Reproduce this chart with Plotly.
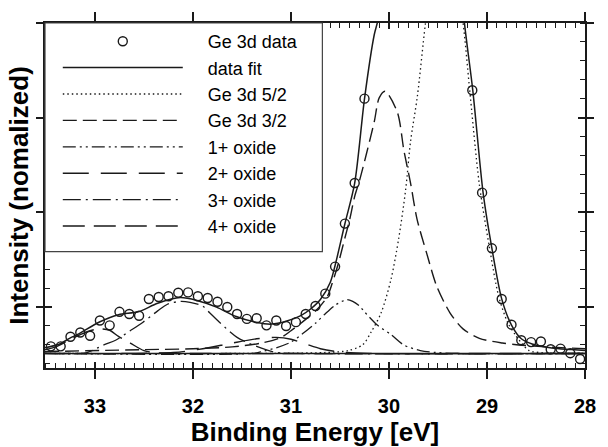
import plotly.graph_objects as go

FONT = "Liberation Sans, Arial, sans-serif"
INK = "#1a1a1a"

# ---------------- data ----------------
data_energy = [33.45, 33.35, 33.25, 33.15, 33.05, 32.95, 32.85, 32.75, 32.65, 32.55,
               32.45, 32.35, 32.25, 32.15, 32.05, 31.95, 31.85, 31.75, 31.65, 31.55,
               31.45, 31.35, 31.25, 31.15, 31.05, 30.95, 30.85, 30.75, 30.65, 30.55,
               30.45, 30.35, 30.25, 30.15, 30.05, 29.95, 29.85, 29.75, 29.65, 29.55,
               29.45, 29.35, 29.25, 29.15, 29.05, 28.95, 28.85, 28.75, 28.65, 28.55,
               28.45, 28.35, 28.25, 28.15, 28.05]
data_intensity = [0.075, 0.075, 0.177, 0.222, 0.187, 0.348, 0.297, 0.440, 0.417, 0.399,
                  0.576, 0.597, 0.604, 0.642, 0.645, 0.604, 0.586, 0.546, 0.491, 0.417,
                  0.365, 0.372, 0.297, 0.348, 0.290, 0.331, 0.417, 0.502, 0.632, 0.918,
                  1.372, 1.801, 2.692, 3.90, 4.30, 4.50, 4.70, 4.90, 5.20, 5.50,
                  5.60, 5.00, 3.80, 2.781, 1.699, 1.111, 0.576, 0.304, 0.140, 0.120,
                  0.126, 0.044, 0.051, 0.003, -0.058]

fit_energy = [33.51, 33.36, 33.26, 33.16, 32.96, 32.76, 32.56, 32.36, 32.13, 31.96,
              31.76, 31.56, 31.36, 31.20, 31.05, 30.90, 30.80, 30.70, 30.60, 30.55,
              30.45, 30.35, 30.25, 30.15, 30.12, 30.05, 29.90, 29.75, 29.60, 29.45,
              29.33, 29.23, 29.145, 29.04, 28.95, 28.85, 28.75, 28.65, 28.54, 28.34,
              28.14, 28.00]
fit_intensity = [0.06, 0.10, 0.16, 0.21, 0.33, 0.41, 0.44, 0.53, 0.59, 0.56,
                 0.49, 0.39, 0.33, 0.31, 0.34, 0.40, 0.47, 0.57, 0.75, 0.93,
                 1.37, 1.80, 2.69, 3.37, 3.49, 3.85, 4.10, 4.40, 4.90, 5.10,
                 4.60, 3.49, 2.78, 1.70, 1.11, 0.577, 0.30, 0.155, 0.10, 0.058,
                 0.041, 0.03]

ge52_energy = [33.51, 31.50, 30.65, 30.42, 30.27, 30.18, 30.08, 29.98, 29.90, 29.83,
               29.78, 29.71, 29.63, 29.55, 29.45, 29.35, 29.245, 29.18, 29.08, 28.98,
               28.88, 28.79, 28.71, 28.64, 28.57, 28.40, 28.00]
ge52_intensity = [0.0, 0.0, 0.01, 0.03, 0.09, 0.23, 0.43, 0.78, 1.22, 1.73,
                  2.24, 2.72, 3.47, 4.10, 4.45, 4.20, 3.50, 2.82, 1.80, 1.15,
                  0.60, 0.33, 0.195, 0.10, 0.03, 0.005, 0.0]

ge32_energy = [33.51, 32.50, 32.00, 31.60, 31.30, 31.10, 31.00, 30.85, 30.72, 30.63,
               30.58, 30.52, 30.45, 30.40, 30.35, 30.30, 30.23, 30.15, 30.10, 30.04,
               29.915, 29.847, 29.78, 29.714, 29.613, 29.513, 29.378, 29.245, 29.078, 28.843,
               28.676, 28.40, 28.00]
ge32_intensity = [0.02, 0.04, 0.05, 0.07, 0.11, 0.17, 0.24, 0.36, 0.48, 0.60,
                  0.74, 0.94, 1.22, 1.42, 1.66, 1.83, 2.11, 2.45, 2.70, 2.77,
                  2.55, 2.14, 1.80, 1.42, 1.05, 0.71, 0.43, 0.26, 0.16, 0.11,
                  0.09, 0.07, 0.05]

ox1_energy = [33.51, 31.40, 31.30, 31.15, 31.00, 30.88, 30.75, 30.65, 30.55, 30.48,
              30.43, 30.37, 30.30, 30.25, 30.12, 29.98, 29.85, 29.68, 29.52, 29.30, 28.00]
ox1_intensity = [0.0, 0.0, 0.02, 0.06, 0.12, 0.21, 0.32, 0.42, 0.51, 0.55,
                 0.57, 0.55, 0.50, 0.44, 0.30, 0.20, 0.09, 0.03, 0.01, 0.0, 0.0]

ox2_energy = [33.51, 32.20, 31.90, 31.60, 31.35, 31.15, 31.00, 30.85, 30.70, 30.50, 30.20, 28.00]
ox2_intensity = [0.0, 0.01, 0.05, 0.11, 0.155, 0.17, 0.15, 0.10, 0.05, 0.015, 0.0, 0.0]

ox3_energy = [33.51, 33.20, 33.08, 32.91, 32.79, 32.64, 32.51, 32.36, 32.26, 32.13,
              32.03, 31.90, 31.83, 31.73, 31.55, 31.35, 31.15, 30.90, 28.00]
ox3_intensity = [0.0, 0.0, 0.01, 0.09, 0.14, 0.24, 0.33, 0.45, 0.52, 0.55,
                 0.54, 0.50, 0.43, 0.33, 0.17, 0.075, 0.01, 0.0, 0.0]

ox4_energy = [33.51, 33.40, 33.30, 33.15, 33.05, 32.95, 32.85, 32.76, 32.64, 32.50, 32.35, 32.00, 28.00]
ox4_intensity = [0.04, 0.07, 0.12, 0.20, 0.24, 0.26, 0.245, 0.18, 0.11, 0.03, 0.005, 0.0, 0.0]

baseline_energy = [33.51, 28.00]
baseline_intensity = [0.0, 0.0]

x_tick_vals = [33, 32, 31, 30, 29, 28]
x_tick_text = ["33", "32", "31", "30", "29", "28"]

# ---------------- figure ----------------
fig = go.Figure()
PAD = "\u00a0" * 4   # gap between legend sample and its label

line_specs = [
    ("data fit", fit_energy, fit_intensity, "solid", 1.5),
    ("Ge 3d 5/2", ge52_energy, ge52_intensity, "1.5px,3px", 1.3),
    ("Ge 3d 3/2", ge32_energy, ge32_intensity, "14px,6px", 1.4),
    ("1+ oxide", ox1_energy, ox1_intensity, "13px,4px,2px,4px,2px,4px", 1.3),
    ("2+ oxide", ox2_energy, ox2_intensity, "26px,12px", 1.4),
    ("3+ oxide", ox3_energy, ox3_intensity, "18px,5px,2px,5px", 1.3),
    ("4+ oxide", ox4_energy, ox4_intensity, "22px,9px", 1.4),
]

fig.add_trace(go.Scatter(
    x=data_energy, y=data_intensity, mode="markers", name=PAD + "Ge 3d data",
    marker=dict(symbol="circle-open", size=9, color=INK, line=dict(width=1.4, color=INK)),
    legendrank=1,
))

for i, (name, xs, ys, dash, w) in enumerate(line_specs):
    fig.add_trace(go.Scatter(
        x=xs, y=ys, mode="lines", name=PAD + name,
        line=dict(color=INK, width=w, dash=dash, shape="spline", smoothing=0.8),
        legendrank=2 + i,
    ))

fig.add_trace(go.Scatter(
    x=baseline_energy, y=baseline_intensity, mode="lines", showlegend=False,
    line=dict(color=INK, width=1.5),
))

# invisible trace to activate overlay axes (inside parts of the major ticks)
fig.add_trace(go.Scatter(x=[], y=[], xaxis="x2", yaxis="y2", showlegend=False))

x_range = [33.51, 28.0]
y_range = [-0.1536, 3.4915]
y_tick0 = 0.4914

common_axis = dict(showgrid=False, zeroline=False, showline=True, linecolor=INK,
                   linewidth=1.5, tickcolor=INK, tickwidth=1.5)

fig.update_layout(
    width=608, height=447,
    margin=dict(l=45, r=14, t=18, b=73),
    paper_bgcolor="white", plot_bgcolor="white",
    font=dict(family=FONT, color="black"),
    xaxis=dict(
        range=x_range, autorange=False, mirror="ticks",
        ticks="outside", ticklen=9, tickmode="array",
        tickvals=x_tick_vals, ticktext=x_tick_text,
        tickfont=dict(size=20, family=FONT, weight="bold"),
        ticklabelstandoff=10,
        minor=dict(ticks="inside", ticklen=5, tickmode="linear", tick0=28, dtick=0.1,
                   tickcolor=INK, tickwidth=1, showgrid=False),
        title=dict(text="\u00a0\u00a0\u00a0Binding Energy [eV]",
                   font=dict(size=26, family=FONT, weight="bold"), standoff=0),
        **common_axis,
    ),
    yaxis=dict(
        range=y_range, autorange=False, mirror="ticks",
        ticks="outside", ticklen=7, tickmode="linear", tick0=y_tick0, dtick=1,
        showticklabels=False,
        minor=dict(ticks="inside", ticklen=5, tickmode="linear", tick0=y_tick0, dtick=0.2,
                   tickcolor=INK, tickwidth=1, showgrid=False),
        title=dict(text="Intensity (nomalized)", font=dict(size=26, family=FONT, weight="bold"),
                   standoff=0),
        **common_axis,
    ),
    xaxis2=dict(
        range=x_range, autorange=False, overlaying="x", anchor="y2", side="bottom",
        mirror="ticks", ticks="inside", ticklen=6, tickmode="array", tickvals=x_tick_vals,
        showticklabels=False, **common_axis,
    ),
    yaxis2=dict(
        range=y_range, autorange=False, overlaying="y", anchor="x2", side="left",
        mirror="ticks", ticks="inside", ticklen=7, tickmode="linear", tick0=y_tick0, dtick=1,
        showticklabels=False, **common_axis,
    ),
    legend=dict(
        x=13 / 549, y=1, xanchor="left", yanchor="top",
        bgcolor="rgba(0,0,0,0)", borderwidth=0,
        font=dict(size=18, family=FONT, color="black"),
        itemwidth=120, traceorder="normal",
    ),
    shapes=[dict(
        type="rect", xref="paper", yref="paper",
        x0=0, x1=(327 - 45) / 549, y0=(374 - 254) / 356, y1=1,
        fillcolor="white", line=dict(color="#444", width=1.2), layer="above",
    )],
    showlegend=True,
)

fig.write_html("out.html")
